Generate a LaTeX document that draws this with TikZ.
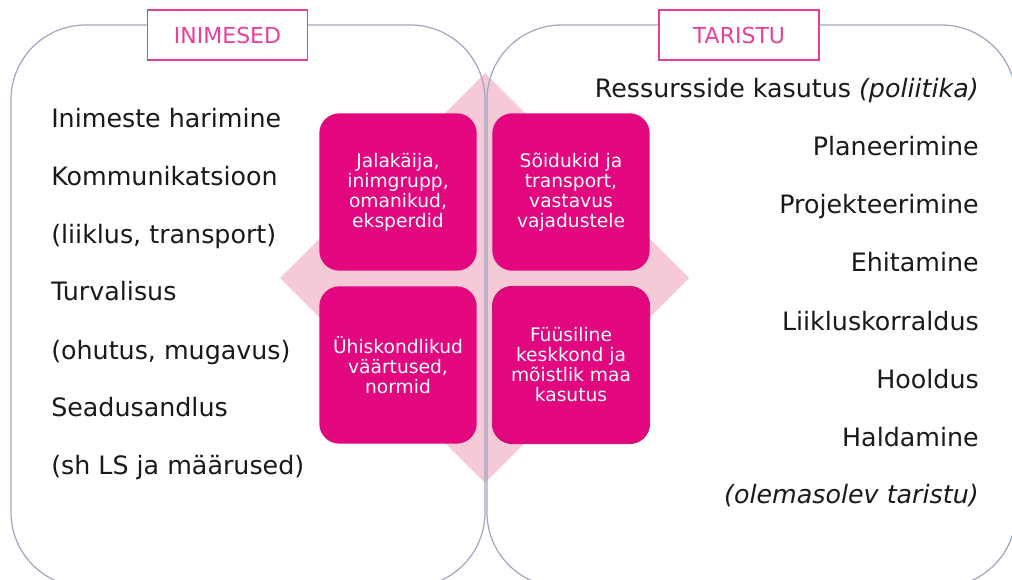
\documentclass[tikz,border=0pt]{standalone}
\usepackage{fontspec}
\setmainfont{DejaVu Sans}
\definecolor{tilepink}{HTML}{E2077E}
\definecolor{diamondpink}{HTML}{F5C9D6}
\definecolor{tagpink}{HTML}{E8409A}
\definecolor{framegray}{HTML}{A0A7C0}
\definecolor{ink}{HTML}{1A1A1A}
\tikzstyle{frame}=[draw=framegray, line width=0.9pt, rounded corners=56pt]
\tikzstyle{tile}=[rectangle, rounded corners=15pt, fill=tilepink, minimum size=118pt, inner sep=0pt, text=white, align=center, font=\fontsize{14}{15}\selectfont]
\tikzstyle{tag}=[rectangle, draw=tagpink, line width=1.2pt, fill=white, minimum width=120pt, minimum height=37.5pt, text=tagpink, font=\fontsize{16.5}{18}\selectfont]
\tikzstyle{lefttext}=[anchor=base west, inner sep=0pt, text=ink, font=\fontsize{19}{22}\selectfont]
\tikzstyle{righttext}=[anchor=base east, inner sep=0pt, text=ink, font=\fontsize{19}{22}\selectfont]
\newcommand{\tile}{\node[tile]}

\begin{document}
\begin{tikzpicture}[x=0.75pt, y=-0.75pt]
\path[use as bounding box, clip] (0,0) rectangle (1012,580);
\fill[white] (0,0) rectangle (1012,580);
% pink diamond behind the tiles
\fill[diamondpink] (485,73) -- (689,278) -- (485,483) -- (280,278) -- cycle;
% the two big frames
\draw[frame] (11,25) rectangle (485,587);
\draw[frame] (487,25) rectangle (1016,587);
\node[tag] (inimesed) at (227.5,35) {INIMESED};
\node[tag] (taristu) at (739,35) {TARISTU};
% four tiles
\tile (tl) at (398,192) {Jalakäija,\\inimgrupp,\\omanikud,\\eksperdid};
\tile (tr) at (571,192) {Sõidukid ja\\transport,\\vastavus\\vajadustele};
\tile (bl) at (398,365) {Ühiskondlikud\\väärtused,\\normid};
\tile[draw=tilepink!85!black, line width=0.5pt] (br) at (571,365) {Füüsiline\\keskkond ja\\mõistlik maa\\kasutus};
% left column
\node[lefttext] (l1) at (51,128) {Inimeste harimine};
\node[lefttext] (l2) at (51,186) {Kommunikatsioon};
\node[lefttext] (l3) at (51,243.5) {(liiklus, transport)};
\node[lefttext] (l4) at (51,301) {Turvalisus};
\node[lefttext] (l5) at (51,359) {(ohutus, mugavus)};
\node[lefttext] (l6) at (51,416.5) {Seadusandlus};
\node[lefttext] (l7) at (51,474) {(sh LS ja määrused)};
% right column
\node[righttext] (r1) at (979,98) {Ressursside kasutus \textit{(poliitika)}};
\node[righttext] (r2) at (979,156) {Planeerimine};
\node[righttext] (r3) at (979,214) {Projekteerimine};
\node[righttext] (r4) at (979,272) {Ehitamine};
\node[righttext] (r5) at (979,330) {Liikluskorraldus};
\node[righttext] (r6) at (979,388) {Hooldus};
\node[righttext] (r7) at (979,446) {Haldamine};
\node[righttext] (r8) at (979,503) {\textit{(olemasolev taristu)}};
\end{tikzpicture}
\end{document}
